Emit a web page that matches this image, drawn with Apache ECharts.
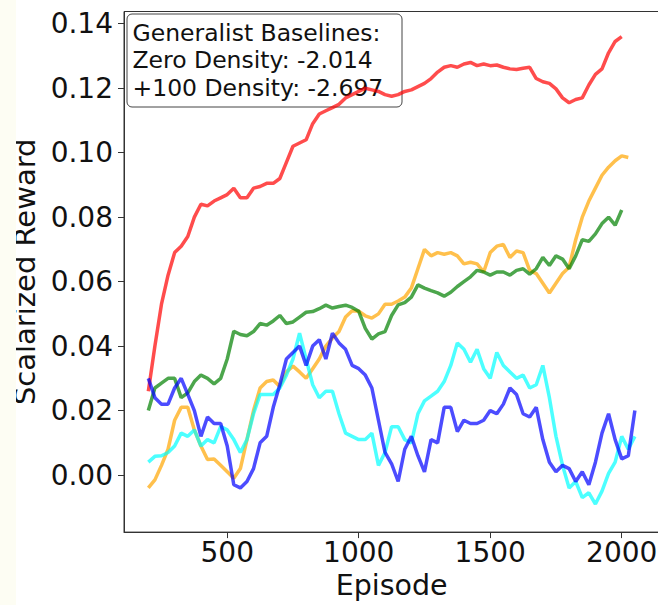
<!DOCTYPE html>
<html>
<head>
<meta charset="utf-8">
<script src="https://cdn.jsdelivr.net/npm/echarts@6/dist/echarts.min.js"></script>
<style>
  html, body { margin: 0; padding: 0; width: 658px; height: 605px; overflow: hidden; background: #fff; }
  #strip { position: absolute; left: 0; top: 0; width: 16px; height: 605px; background: #fdfdf3; z-index: 2; }
  #chart { position: absolute; left: 0; top: 0; width: 680px; height: 605px; }
</style>
</head>
<body>
<div id="strip"></div>
<div id="chart"></div>
<script>
// episodes sampled every 25 steps
const episodes = [];
for (let e = 200; e <= 2050; e += 25) episodes.push(e);

const yTicks = [0, 0.02, 0.04, 0.06, 0.08, 0.10, 0.12, 0.14];
const xTicks = [500, 1000, 1500, 2000];

const redVals = [
  0.026, 0.040, 0.053, 0.062, 0.069, 0.071, 0.074, 0.080, 0.084, 0.0835,
  0.085, 0.086, 0.087, 0.089, 0.086, 0.086, 0.089, 0.0895, 0.0905, 0.0905,
  0.092, 0.097, 0.102, 0.103, 0.104, 0.109, 0.112, 0.113, 0.114, 0.115,
  0.117, 0.118, 0.119, 0.120, 0.1195, 0.119, 0.118, 0.1175, 0.118, 0.119,
  0.1195, 0.1205, 0.1215, 0.123, 0.125, 0.1265, 0.127, 0.1265, 0.1275, 0.128,
  0.127, 0.1275, 0.127, 0.1272, 0.1265, 0.126, 0.1258, 0.1262, 0.1265, 0.123,
  0.122, 0.1215, 0.1198, 0.117, 0.1155, 0.1165, 0.117, 0.121, 0.1243, 0.126,
  0.131, 0.1345, 0.136
];
const orangeVals = [
  -0.004, -0.0015, 0.003, 0.008, 0.017, 0.021, 0.021, 0.014, 0.009, 0.0048,
  0.005, 0.003, 0.001, -0.001, 0.002, 0.011, 0.020, 0.027, 0.029, 0.0295,
  0.0275, 0.032, 0.0338, 0.032, 0.030, 0.033, 0.036, 0.040, 0.0425, 0.0445,
  0.049, 0.051, 0.0508, 0.0494, 0.0487, 0.050, 0.053, 0.053, 0.054, 0.0552,
  0.058, 0.064, 0.070, 0.068, 0.069, 0.0685, 0.069, 0.068, 0.0655, 0.066,
  0.0655, 0.063, 0.069, 0.071, 0.0715, 0.0675, 0.0695, 0.069, 0.0635, 0.0625,
  0.0595, 0.0565, 0.0595, 0.0625, 0.0645, 0.073, 0.080, 0.085, 0.089, 0.093,
  0.0955, 0.0975, 0.099, 0.0985
];
const greenVals = [
  0.020, 0.027, 0.0285, 0.030, 0.030, 0.024, 0.0255, 0.029, 0.031, 0.030,
  0.0283, 0.030, 0.036, 0.0446, 0.0436, 0.0432, 0.0445, 0.047, 0.0465, 0.0478,
  0.0495, 0.047, 0.0475, 0.049, 0.0505, 0.0507, 0.0516, 0.0527, 0.0518, 0.0523,
  0.0527, 0.052, 0.0508, 0.0455, 0.0422, 0.0438, 0.0445, 0.0495, 0.0528, 0.0535,
  0.0552, 0.059, 0.058, 0.0572, 0.0565, 0.0555, 0.0567, 0.0585, 0.060, 0.0615,
  0.0635, 0.063, 0.062, 0.063, 0.063, 0.062, 0.0635, 0.064, 0.0623, 0.064,
  0.0675, 0.065, 0.068, 0.067, 0.064, 0.068, 0.073, 0.0725, 0.0748, 0.078,
  0.080, 0.0775, 0.0822
];
const cyanVals = [
  0.004, 0.0058, 0.006, 0.007, 0.009, 0.013, 0.012, 0.014, 0.009, 0.011,
  0.010, 0.015, 0.014, 0.011, 0.007, 0.011, 0.019, 0.025, 0.025, 0.025,
  0.027, 0.031, 0.036, 0.044, 0.036, 0.028, 0.024, 0.026, 0.026, 0.019,
  0.013, 0.012, 0.011, 0.011, 0.013, 0.003, 0.007, 0.015, 0.015, 0.011,
  0.010, 0.019, 0.023, 0.0245, 0.026, 0.029, 0.034, 0.041, 0.039, 0.035,
  0.039, 0.033, 0.030, 0.038, 0.034, 0.032, 0.030, 0.031, 0.027, 0.028,
  0.034, 0.024, 0.012, 0.003, -0.004, -0.002, -0.007, -0.0055, -0.009, -0.005,
  0.0005, 0.004, 0.012, 0.008, 0.012
];
const blueVals = [
  0.030, 0.024, 0.022, 0.022, 0.027, 0.030, 0.025, 0.020, 0.012, 0.018,
  0.016, 0.016, 0.009, -0.003, -0.004, -0.002, 0.002, 0.010, 0.012, 0.021,
  0.028, 0.036, 0.038, 0.040, 0.034, 0.040, 0.042, 0.036, 0.044, 0.041,
  0.039, 0.034, 0.033, 0.031, 0.027, 0.017, 0.007, 0.0035, -0.002, 0.008,
  0.012, 0.006, 0.001, 0.011, 0.010, 0.021, 0.021, 0.0135, 0.017, 0.016,
  0.016, 0.017, 0.020, 0.019, 0.022, 0.027, 0.025, 0.019, 0.018, 0.021,
  0.011, 0.004, 0.001, 0.003, 0.002, -0.002, 0.001, -0.003, 0.004, 0.013,
  0.019, 0.011, 0.005, 0.006, 0.020
];

const font = 'DejaVu Sans';

function pairs(vals) {
  return vals.map((v, i) => [episodes[i], v]);
}

function line(name, vals, color) {
  return {
    name: name,
    type: 'line',
    data: pairs(vals),
    showSymbol: false,
    symbol: 'none',
    lineStyle: { color: color, width: 3.5, opacity: 0.7 },
    itemStyle: { color: color }
  };
}

const chart = echarts.init(document.getElementById('chart'), null, { renderer: 'svg' });

chart.setOption({
  animation: false,
  backgroundColor: '#fff',
  grid: {
    left: 124, right: 20.8, top: 11.5, bottom: 68,
    show: true, borderColor: '#333', borderWidth: 1
  },
  xAxis: {
    type: 'value',
    min: 107.5,
    max: 2142.5,
    name: 'Episode',
    nameLocation: 'middle',
    nameGap: 35,
    nameTextStyle: { fontFamily: font, fontSize: 28.5, color: '#111' },
    axisLine: { onZero: false, lineStyle: { color: '#333' } },
    axisTick: { customValues: xTicks, length: 6, lineStyle: { color: '#333' } },
    axisLabel: {
      customValues: xTicks, margin: 6,
      fontFamily: font, fontSize: 28, color: '#111',
      formatter: v => String(v)
    },
    splitLine: { show: false }
  },
  yAxis: {
    type: 'value',
    min: -0.0177,
    max: 0.1438,
    name: 'Scalarized Reward',
    nameLocation: 'middle',
    nameGap: 77,
    nameTextStyle: { fontFamily: font, fontSize: 29, color: '#111' },
    axisLine: { show: true, onZero: false, lineStyle: { color: '#333' } },
    axisTick: { show: true, customValues: yTicks, length: 6, lineStyle: { color: '#333' } },
    axisLabel: {
      customValues: yTicks, margin: 11,
      fontFamily: font, fontSize: 28, color: '#111',
      formatter: v => v.toFixed(2)
    },
    splitLine: { show: false }
  },
  series: [
    line('red', redVals, '#ff0000'),
    line('orange', orangeVals, '#ffa500'),
    line('green', greenVals, '#008000'),
    line('cyan', cyanVals, '#00ffff'),
    line('blue', blueVals, '#0000ff')
  ],
  graphic: [
    {
      type: 'group',
      z: 100,
      children: [
        {
          type: 'rect',
          shape: { x: 127, y: 14, width: 275, height: 93, r: 5 },
          style: { fill: 'rgba(255,255,255,0.8)', stroke: '#444', lineWidth: 1 }
        },
        {
          type: 'text',
          x: 132.5,
          y: 19,
          style: {
            text: 'Generalist Baselines:\nZero Density: -2.014\n+100 Density: -2.697',
            fontFamily: font,
            fontSize: 23.5,
            lineHeight: 27.5,
            fill: '#111',
            verticalAlign: 'top'
          }
        }
      ]
    }
  ]
});
</script>
</body>
</html>
